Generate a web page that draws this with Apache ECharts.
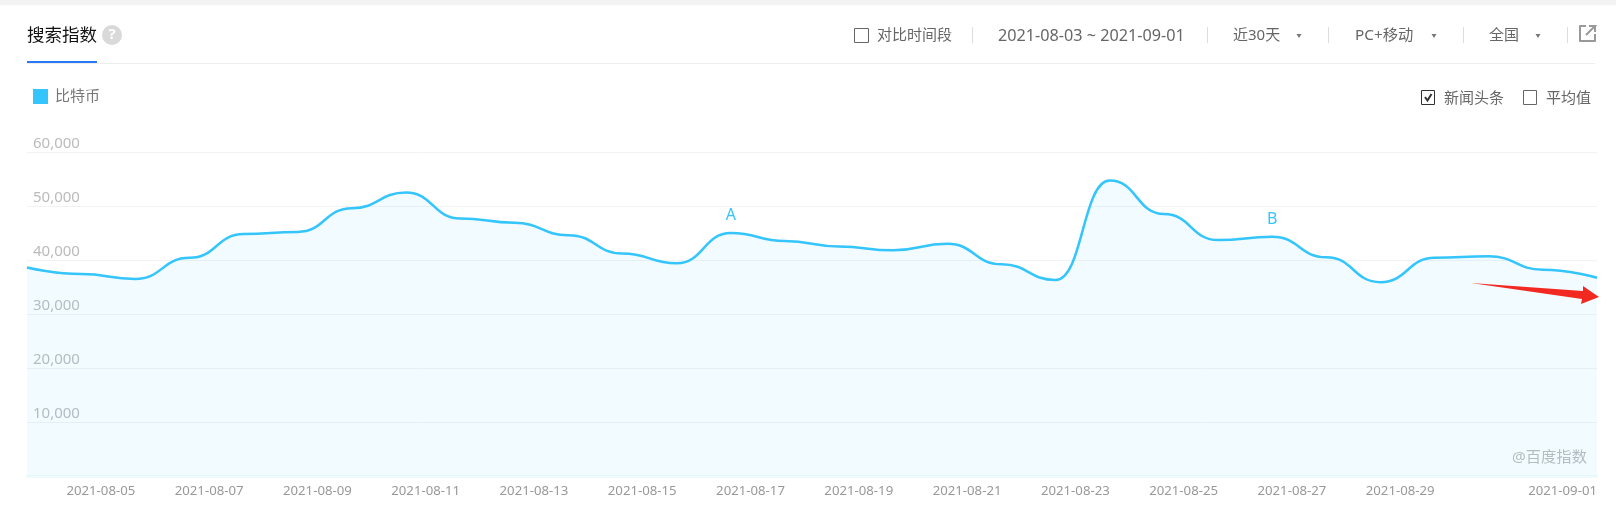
<!DOCTYPE html>
<html>
<head>
<meta charset="utf-8">
<style>
html, body { margin: 0; padding: 0; background: #fff; }
#main { width: 1616px; height: 514px; }
</style>
<script src="https://cdn.jsdelivr.net/npm/echarts@6/dist/echarts.min.js"></script>
</head>
<body>
<div id="main"></div>
<script>
var categories = ['2021-08-03','2021-08-04','2021-08-05','2021-08-06','2021-08-07','2021-08-08','2021-08-09','2021-08-10','2021-08-11','2021-08-12',
	'2021-08-13','2021-08-14','2021-08-15','2021-08-16','2021-08-17','2021-08-18','2021-08-19','2021-08-20','2021-08-21','2021-08-22',
	'2021-08-23','2021-08-24','2021-08-25','2021-08-26','2021-08-27','2021-08-28','2021-08-29','2021-08-30','2021-08-31','2021-09-01'];
var btcValues = [38600,37400,36500,40400,44800,45200,49600,52500,47700,46900,
	44600,41200,39400,45000,43500,42500,41800,43000,39200,36300,
	54700,48500,43700,44300,40500,35900,40400,40700,38200,36700];
var xTickLabels = ['2021-08-05','2021-08-07','2021-08-09','2021-08-11','2021-08-13','2021-08-15','2021-08-17','2021-08-19','2021-08-21','2021-08-23',
	'2021-08-25','2021-08-27','2021-08-29','2021-09-01'];
var newsMarks = [{name:'A', date:'2021-08-16', offset:-18}, {name:'B', date:'2021-08-26', offset:-17}];

var FONT = '"Noto Sans", "Noto Sans CJK SC", sans-serif';
var LINE = '#33c5fb';

function txt(x, y, s, size, color, align) {
	return {type:'text', x:x, y:y, silent:true, style:{text:s, font:size + 'px ' + FONT, fill:color, align:align || 'left', verticalAlign:'middle'}};
}
function box(x, y, w, h, fill, stroke) {
	return {type:'rect', silent:true, shape:{x:x, y:y, width:w, height:h}, style:{fill:fill || 'none', stroke:stroke || 'none', lineWidth:1}};
}
function arrow(x, y) {
	return {type:'polygon', silent:true, shape:{points:[[x-2.5,y-2],[x+2.5,y-2],[x,y+2]]}, style:{fill:'#777'}};
}

var graphics = [
	box(0, 0, 1616, 5, '#f3f3f3'),
	txt(27, 36, '搜索指数', 17.5, '#111'),
	{type:'circle', silent:true, shape:{cx:112, cy:35, r:10}, style:{fill:'#d9d9d9'}},
	txt(112, 35, '?', 'bold 15', '#fff', 'center'),
	box(27, 63, 1568, 1, '#eee'),
	box(27, 61, 70, 2, '#2b78f6'),
	box(854.5, 28.5, 14, 14, null, '#666'),
	txt(877, 36, '对比时间段', 15, '#666'),
	box(972, 27, 1, 16, '#ddd'),
	txt(998, 36, '2021-08-03 ~ 2021-09-01', 16.2, '#666'),
	box(1207, 27, 1, 16, '#ddd'),
	txt(1233, 36, '近30天', 15, '#666'),
	arrow(1299, 36),
	box(1328, 27, 1, 16, '#ddd'),
	txt(1355, 36, 'PC+移动', 15.3, '#666'),
	arrow(1434, 36),
	box(1463, 27, 1, 16, '#ddd'),
	txt(1489, 36, '全国', 15, '#666'),
	arrow(1538, 36),
	box(1567, 27, 1, 16, '#ddd'),
	{type:'polyline', silent:true, shape:{points:[[1586,26],[1580,26],[1580,41],[1595,41],[1595,34]]}, style:{fill:'none', stroke:'#999', lineWidth:2, lineJoin:'round'}},
	{type:'polyline', silent:true, shape:{points:[[1586,35],[1595,26],[1589,26],[1595,26],[1595,32]]}, style:{fill:'none', stroke:'#999', lineWidth:2}},
	box(1421.5, 90.5, 13, 14, null, '#333'),
	{type:'polyline', silent:true, shape:{points:[[1425,97],[1427.5,100.5],[1431.5,94]]}, style:{fill:'none', stroke:'#333', lineWidth:2}},
	txt(1444, 99, '新闻头条', 15, '#666'),
	box(1523.5, 90.5, 13, 14, null, '#666'),
	txt(1546, 99, '平均值', 15, '#666'),
	txt(1512, 458, '@百度指数', 15.3, '#bbb'),
	{type:'polygon', silent:true, shape:{points:[[1471,283],[1583,291],[1583,286],[1599,297],[1581,304],[1582,299]]}, style:{fill:'#ff1c0e'}}
];

var myChart = echarts.init(document.getElementById('main'));
myChart.setOption({
	animation: false,
	textStyle: {fontFamily: FONT},
	legend: {
		left: 28, top: 84, itemWidth: 15, itemHeight: 15, icon: 'rect',
		data: ['比特币'],
		textStyle: {fontSize: 15, color: '#777', fontFamily: FONT, padding: [0, 0, 0, 2]}
	},
	grid: {left: 27, right: 19, top: 152, bottom: 38},
	xAxis: {
		type: 'category',
		boundaryGap: false,
		data: categories,
		axisLine: {show: true, onZero: false, lineStyle: {color: '#f0fafd', width: 3}},
		axisTick: {
			show: true, inside: true, length: 3,
			interval: function(i, v) { return xTickLabels.indexOf(v) >= 0; },
			lineStyle: {color: '#fff', width: 1}
		},
		axisLabel: {
			interval: function(i, v) { return xTickLabels.indexOf(v) >= 0; },
			align: 'right', color: '#999', fontSize: 13.2, margin: 9, fontFamily: FONT,
			hideOverlap: false
		},
		splitLine: {show: false}
	},
	yAxis: {
		type: 'value',
		min: 0, max: 60000, interval: 10000,
		axisLine: {show: false},
		axisTick: {show: false},
		axisLabel: {
			inside: true, margin: 6, color: '#bbb', fontSize: 15, verticalAlign: 'bottom', fontFamily: FONT,
			padding: [0, 0, 1, 0],
			formatter: function(v) { return v === 0 ? '' : echarts.format.addCommas(v); }
		},
		splitLine: {lineStyle: {color: '#f0f3f3', width: 1}}
	},
	series: [{
		name: '比特币',
		type: 'line',
		data: btcValues,
		smooth: 0.5,
		smoothMonotone: 'x',
		showSymbol: false,
		itemStyle: {color: LINE},
		lineStyle: {color: LINE, width: 2.5},
		areaStyle: {color: 'rgba(90,205,250,0.08)', opacity: 1},
		markPoint: {
			symbol: 'circle', symbolSize: 1,
			itemStyle: {color: 'rgba(0,0,0,0)'},
			label: {color: LINE, fontSize: 16, position: 'inside', fontFamily: FONT, formatter: '{b}'},
			data: newsMarks.map(function(m) {
				return {name: m.name, coord: [m.date, btcValues[categories.indexOf(m.date)]], label: {offset: [0, m.offset]}};
			})
		}
	}],
	graphic: {elements: graphics}
});
</script>
</body>
</html>
